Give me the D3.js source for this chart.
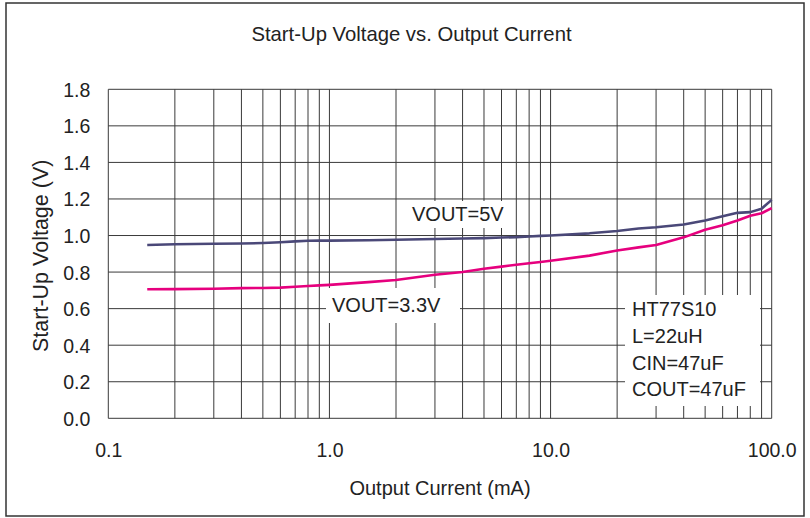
<!DOCTYPE html>
<html><head><meta charset="utf-8">
<script src="https://cdn.jsdelivr.net/npm/d3@7"></script>
<style>body{margin:0;background:#fff}svg{display:block;font-family:"Liberation Sans",Arial,sans-serif}</style>
</head><body>
<svg id="c" width="810" height="518"></svg>
<script>
const current = [0.15,0.2,0.3,0.4,0.5,0.6,0.7,0.8,0.9,1,1.5,2,3,4,5,6,7,8,9,10,15,20,25,30,40,50,60,70,80,90,100];
const vout5 = [0.948,0.952,0.955,0.956,0.959,0.963,0.968,0.971,0.972,0.972,0.974,0.977,0.981,0.984,0.986,0.989,0.991,0.995,0.998,1.0,1.012,1.025,1.038,1.045,1.06,1.082,1.105,1.124,1.128,1.147,1.195];
const vout33 = [0.706,0.707,0.709,0.712,0.713,0.715,0.72,0.724,0.727,0.73,0.745,0.757,0.785,0.8,0.818,0.83,0.84,0.848,0.855,0.862,0.89,0.918,0.935,0.948,0.99,1.032,1.056,1.082,1.108,1.122,1.15];
const xTickValues = [0.1,1,10,100];
const xTickLabels = ["0.1","1.0","10.0","100.0"];
const yTickValues = [0,0.2,0.4,0.6,0.8,1.0,1.2,1.4,1.6,1.8];
const title = "Start-Up Voltage vs. Output Current";
const xTitle = "Output Current (mA)";
const yTitle = "Start-Up Voltage (V)";
const seriesLabels = ["VOUT=5V","VOUT=3.3V"];
const noteLines = ["HT77S10","L=22uH","CIN=47uF","COUT=47uF"];

const svg = d3.select("#c");
const L=108.3, R=771.7, T=89.3, B=418.3;
const x = d3.scaleLog().domain([0.1,100]).range([L,R]);
const y = d3.scaleLinear().domain([0,1.8]).range([B,T]);
const gridColor = "#3a3a3a";

// outer frame
svg.append("rect").attr("x",6).attr("y",3).attr("width",798).attr("height",513)
  .attr("fill","none").attr("stroke","#333").attr("stroke-width",1.5);

// title
svg.append("text").attr("x",411.5).attr("y",40.5).attr("text-anchor","middle")
  .attr("font-size",20.3).attr("fill","#222").text(title);

// grid vertical
const vlines = [];
[0.1,1,10].forEach(d=>{for(let k=1;k<10;k++) vlines.push(d*k);});
vlines.push(100);
svg.append("g").selectAll("line").data(vlines).join("line")
  .attr("x1",d=>x(d)).attr("x2",d=>x(d)).attr("y1",T).attr("y2",B)
  .attr("stroke",gridColor).attr("stroke-width",1);
// grid horizontal
svg.append("g").selectAll("line").data(yTickValues).join("line")
  .attr("x1",L).attr("x2",R).attr("y1",d=>y(d)).attr("y2",d=>y(d))
  .attr("stroke",gridColor).attr("stroke-width",1);

// axes labels via d3 axes (no tick lines)
const xAxis = d3.axisBottom(x).tickValues(xTickValues).tickFormat((d,i)=>xTickLabels[i]).tickSize(0).tickPadding(0);
const gx = svg.append("g").attr("transform",`translate(0,${B})`).call(xAxis);
gx.select(".domain").remove();
gx.selectAll("text").attr("font-size",19.5).attr("fill","#222").attr("font-family","Liberation Sans, Arial, sans-serif")
  .attr("dy",null).attr("y",39);
const yAxis = d3.axisLeft(y).tickValues(yTickValues).tickFormat(d3.format(".1f")).tickSize(0).tickPadding(18);
const gy = svg.append("g").attr("transform",`translate(${L},0)`).call(yAxis);
gy.select(".domain").remove();
gy.selectAll("text").attr("font-size",19.5).attr("fill","#222").attr("font-family","Liberation Sans, Arial, sans-serif")
  .attr("dy","0.36em");

// axis titles
svg.append("text").attr("x",(L+R)/2).attr("y",495).attr("text-anchor","middle")
  .attr("font-size",20).attr("fill","#222").text(xTitle);
svg.append("text").attr("transform",`translate(48,${(T+B)/2+2}) rotate(-90)`).attr("text-anchor","middle")
  .attr("font-size",21.5).attr("fill","#222").text(yTitle);

// white label boxes
function box(x0,y0,x1,y1){svg.append("rect").attr("x",x0).attr("y",y0).attr("width",x1-x0).attr("height",y1-y0).attr("fill","#fff");}
box(405,201,512,228);
box(326,288,460,323);
box(625,295,760,406);

// lines
const line = d3.line().x((d)=>x(d[0])).y(d=>y(d[1]));
svg.append("path").datum(current.map((c,i)=>[c,vout5[i]])).attr("d",line)
  .attr("fill","none").attr("stroke","#4a4878").attr("stroke-width",2.6).attr("stroke-linejoin","round");
svg.append("path").datum(current.map((c,i)=>[c,vout33[i]])).attr("d",line)
  .attr("fill","none").attr("stroke","#e6007e").attr("stroke-width",2.6).attr("stroke-linejoin","round");

// series labels
svg.append("text").attr("x",412).attr("y",221).attr("font-size",20).attr("fill","#222").text(seriesLabels[0]);
svg.append("text").attr("x",332).attr("y",312).attr("font-size",20).attr("fill","#222").text(seriesLabels[1]);

// note block
svg.append("g").selectAll("text").data(noteLines).join("text")
  .attr("x",632).attr("y",(d,i)=>316+i*26.8).attr("font-size",20).attr("fill","#222").text(d=>d);
</script>
</body></html>
